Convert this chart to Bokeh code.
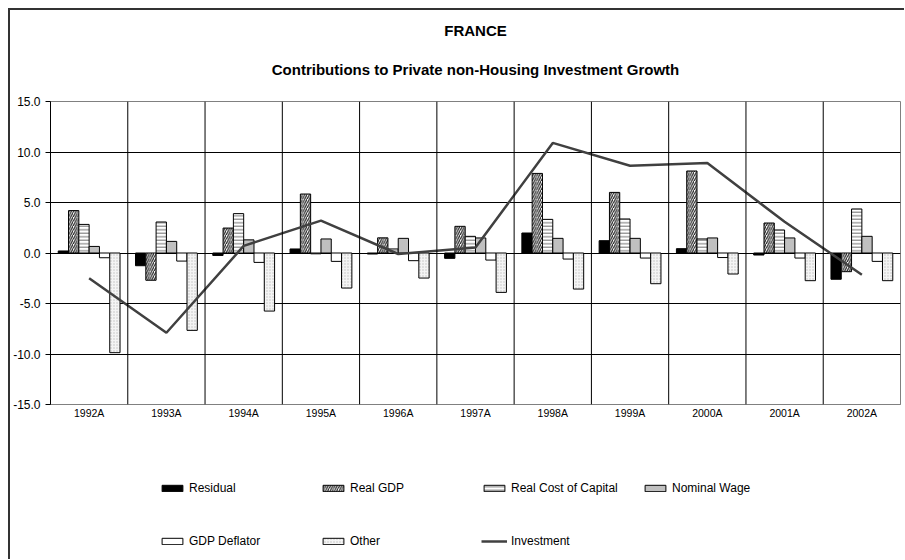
from bokeh.plotting import figure
from bokeh.layouts import column
from bokeh.models import (FactorRange, Range1d, FixedTicker, NumeralTickFormatter,
                          Span, Legend, LegendItem, Title)
from bokeh.transform import dodge
from bokeh.embed import file_html
from bokeh.resources import INLINE

years = ["1992A", "1993A", "1994A", "1995A", "1996A", "1997A",
         "1998A", "1999A", "2000A", "2001A", "2002A"]
residual = [0.2, -1.26, -0.24, 0.4, -0.1, -0.53, 1.98, 1.22, 0.43, -0.2, -2.6]
real_gdp = [4.2, -2.7, 2.47, 5.84, 1.5, 2.64, 7.88, 6.0, 8.12, 2.97, -1.85]
real_cost_capital = [2.83, 3.07, 3.9, -0.08, 0.4, 1.65, 3.33, 3.37, 1.39, 2.28, 4.36]
nominal_wage = [0.65, 1.15, 1.3, 1.39, 1.45, 1.49, 1.45, 1.45, 1.49, 1.49, 1.65]
gdp_deflator = [-0.47, -0.8, -0.93, -0.83, -0.76, -0.7, -0.6, -0.5, -0.45, -0.5, -0.83]
other = [-9.87, -7.66, -5.75, -3.47, -2.48, -3.9, -3.57, -3.04, -2.08, -2.74, -2.74]
investment = [-2.5, -7.9, 0.7, 3.2, -0.1, 0.55, 10.9, 8.64, 8.9, 3.1, -2.15]
y_ticks = [-15, -10, -5, 0, 5, 10, 15]
series_names = ["Residual", "Real GDP", "Real Cost of Capital", "Nominal Wage",
                "GDP Deflator", "Other", "Investment"]

FONT = "Liberation Sans"
NAN = float("nan")

data = dict(year=years, residual=residual, real_gdp=real_gdp,
            real_cost_capital=real_cost_capital, nominal_wage=nominal_wage,
            gdp_deflator=gdp_deflator, other=other, investment=investment)

W = 894
H1 = 420
H2 = 129

p = figure(x_range=FactorRange(factors=years, range_padding=0),
           y_range=Range1d(-15, 15),
           width=W, height=H1, output_backend="svg", toolbar_location=None,
           min_border_left=39, min_border_right=4, min_border_top=91,
           min_border_bottom=26)

p.outline_line_color = "#808080"
p.outline_line_width = 1
p.background_fill_color = "white"
p.border_fill_color = "white"

# grid
p.xgrid.visible = False
p.ygrid.ticker = FixedTicker(ticks=y_ticks[1:-1])
p.ygrid.grid_line_color = "black"
p.ygrid.grid_line_width = 1
for i in range(1, len(years)):
    p.add_layout(Span(location=i, dimension="height", line_color="black", line_width=1))

# axes
p.yaxis.ticker = FixedTicker(ticks=y_ticks)
p.yaxis.formatter = NumeralTickFormatter(format="0.0")
p.yaxis.major_label_text_font = FONT
p.yaxis.major_label_text_font_size = "12px"
p.yaxis.major_label_text_color = "black"
p.yaxis.axis_line_color = "black"
p.yaxis.major_tick_line_color = "black"
p.yaxis.major_tick_out = 5
p.yaxis.major_tick_in = 0
p.yaxis.minor_tick_line_color = None
p.yaxis.major_label_standoff = 5

p.xaxis.major_label_text_font = FONT
p.xaxis.major_label_text_font_size = "10.5px"
p.xaxis.major_label_text_color = "black"
p.xaxis.axis_line_color = "#808080"
p.xaxis.major_tick_line_color = None
p.xaxis.major_tick_out = 0
p.xaxis.major_label_standoff = 2

# titles
p.add_layout(Title(text="Contributions to Private non-Housing Investment Growth",
                   align="center", vertical_align="top", text_font=FONT,
                   text_font_size="15px", text_font_style="bold",
                   text_color="black", standoff=43), "above")
p.add_layout(Title(text="FRANCE", align="center", vertical_align="bottom",
                   text_font=FONT, text_font_size="15px", text_font_style="bold",
                   text_color="black", standoff=2), "above")

w = 0.8 / 6
offs = [-2.5 * w, -1.5 * w, -0.5 * w, 0.5 * w, 1.5 * w, 2.5 * w]

styles = [
    dict(fill_color="black", line_color="black", line_width=1),
    dict(fill_color="white", line_color="black", line_width=1,
         hatch_pattern="/", hatch_color="#222222", hatch_scale=4.5, hatch_weight=1.2),
    dict(fill_color="white", line_color="black", line_width=1,
         hatch_pattern="-", hatch_color="#707070", hatch_scale=3.5, hatch_weight=1),
    dict(fill_color="#c0c0c0", line_color="black", line_width=1),
    dict(fill_color="white", line_color="black", line_width=1),
    dict(fill_color="#f4f4f4", line_color="black", line_width=1,
         hatch_pattern=".", hatch_color="#c0c0c0", hatch_scale=3, hatch_weight=1),
]
cols = ["residual", "real_gdp", "real_cost_capital", "nominal_wage", "gdp_deflator", "other"]
line_style = dict(line_color="#404040", line_width=2.5)

for col, off, st in zip(cols, offs, styles):
    p.vbar(x=dodge("year", off, range=p.x_range), top=col, width=w, source=data, **st)
p.line(x="year", y="investment", source=data, **line_style)

# legend figure below (proxy renderers hold NaN so only their legend swatches show)
q = figure(x_range=Range1d(0, 1), y_range=Range1d(0, 1), width=W, height=H2,
           output_backend="svg", toolbar_location=None,
           x_axis_type=None, y_axis_type=None,
           min_border_left=39, min_border_right=4, min_border_top=0, min_border_bottom=0)
q.outline_line_color = None
q.xgrid.visible = False
q.ygrid.visible = False
q.background_fill_color = "white"
q.border_fill_color = "white"

leg_renderers = [q.vbar(x=[NAN], top=[NAN], width=0.1, **st) for st in styles]
leg_renderers.append(q.line(x=[NAN, NAN], y=[NAN, NAN], **line_style))


def make_legend(names, rends, vy):
    return Legend(items=[LegendItem(label=n, renderers=[r]) for n, r in zip(names, rends)],
                  orientation="horizontal", location=(109, vy),
                  padding=0, margin=0, spacing=1, label_width=130, label_height=14,
                  glyph_width=26, glyph_height=8, label_standoff=4,
                  label_text_font=FONT, label_text_font_size="12px",
                  label_text_color="black", border_line_color=None,
                  background_fill_alpha=0)


q.add_layout(make_legend(series_names[:4], leg_renderers[:4], 64), "center")
q.add_layout(make_legend(series_names[4:], leg_renderers[4:], 11), "center")

layout = column(p, q, spacing=0, margin=(8, 0, 0, 8),
                styles={"border-left": "2px solid #333333", "border-top": "2px solid #333333"})

open("out.html", "w").write(file_html(layout, INLINE))
